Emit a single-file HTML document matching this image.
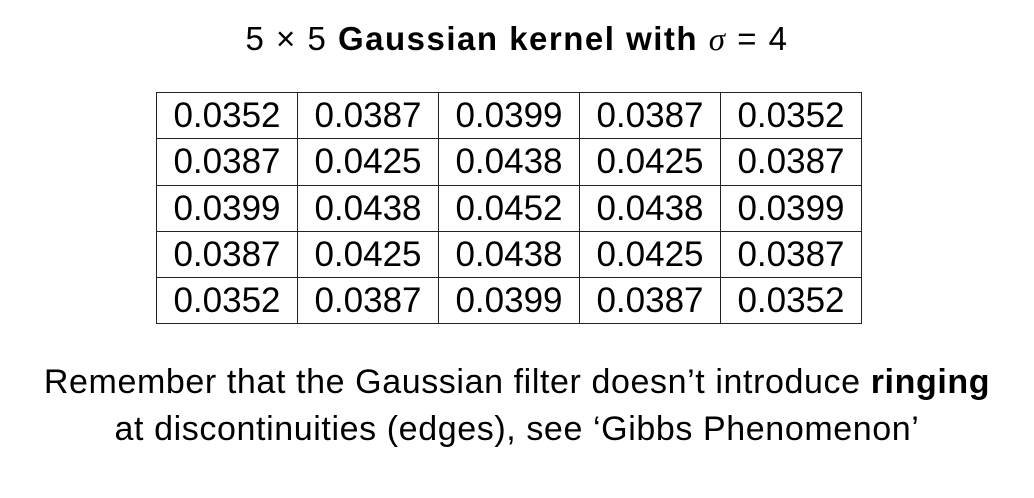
<!DOCTYPE html>
<html><head><meta charset="utf-8"><style>
body{margin:0;width:1034px;height:498px;background:#fff;position:relative;overflow:hidden;font-family:"Liberation Sans",sans-serif;color:#000}
.t{position:absolute;left:0;width:1034px;text-align:center;white-space:nowrap}
#grid{position:absolute;left:156px;top:92px;border-collapse:collapse}
#grid td{border:1.5px solid #222;width:140px;height:45.3px;padding:0;text-align:center;font-size:35px;line-height:45px}
</style></head><body>
<div class="t" style="top:20px;font-size:33px;letter-spacing:1.5px">5 × 5 <b>Gaussian kernel with</b> <i style="font-family:'Liberation Serif',serif">σ</i> = 4</div>
<table id="grid"></table>
<div class="t" style="top:363px;font-size:34px;letter-spacing:0.6px">Remember that the Gaussian filter doesn’t introduce <b>ringing</b></div>
<div class="t" style="top:410px;font-size:34px;letter-spacing:0.6px">at discontinuities (edges), see ‘Gibbs Phenomenon’</div>
<script>
const row1=["0.0352","0.0387","0.0399","0.0387","0.0352"];
const row2=["0.0387","0.0425","0.0438","0.0425","0.0387"];
const row3=["0.0399","0.0438","0.0452","0.0438","0.0399"];
const row4=["0.0387","0.0425","0.0438","0.0425","0.0387"];
const row5=["0.0352","0.0387","0.0399","0.0387","0.0352"];
const rows=[row1,row2,row3,row4,row5];
const tb=document.getElementById('grid');
rows.forEach((r,i)=>{const tr=document.createElement('tr');


r.forEach((v,j)=>{const td=document.createElement('td');td.textContent=v;


tr.appendChild(td);});tb.appendChild(tr);});
</script>
</body></html>
